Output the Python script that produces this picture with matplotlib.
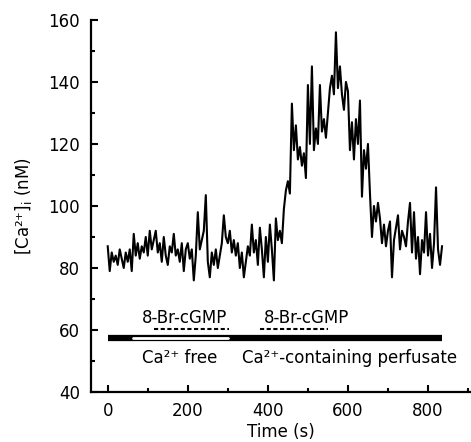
import matplotlib
matplotlib.use("Agg")
import matplotlib.pyplot as plt
import matplotlib.ticker as tic
import numpy as np

plt.rcParams['font.family'] = ['DejaVu Sans']
plt.rcParams['mathtext.default'] = 'regular'
plt.rcParams['font.size'] = 12

time_s = np.arange(0, 840, 5)
ca_nM = [
    87, 79, 85, 82, 84, 81, 86, 83, 80, 85, 82, 86,
    79, 91, 84, 88, 83, 87, 85, 90, 84, 92, 86, 89,
    92, 85, 88, 82, 90, 84, 81, 87, 85, 91, 84, 86,
    82, 88, 79, 86, 88, 83, 86, 76, 84, 98, 86, 89,
    92, 103.5, 82, 77, 85, 81, 86, 80, 84, 88, 97, 90,
    88, 92, 85, 89, 84, 88, 80, 85, 77, 82, 87, 84,
    94, 85, 89, 81, 93, 86, 77, 90, 82, 94, 86, 76,
    96, 89, 92, 88, 99, 105, 108, 104, 133, 118, 126, 115,
    119, 113, 117, 109, 139, 120, 145, 118, 125, 120, 139, 124,
    128, 122, 130, 138, 142, 136, 156, 138, 145, 136, 131, 140,
    137, 118, 127, 115, 128, 120, 134, 103, 118, 112, 120, 104,
    90, 100, 95, 101, 96, 88, 94, 87, 92, 95, 77, 89,
    93, 97, 86, 92, 90, 87, 95, 101, 85, 98, 83, 90,
    78, 89, 85, 98, 84, 91, 80, 88, 106, 86, 81, 87,
]

perfusion = [0, 835]       # whole perfusion bar
ca_free = [62, 300]        # white part of bar
cgmp_1 = [115, 303]
cgmp_2 = [380, 550]
bar_level = 57.5
cgmp_level = 60.2

fig = plt.figure(figsize=(4.71, 4.42), dpi=100)
ax = fig.add_axes([0.193, 0.113, 0.805, 0.842])

ax.plot(time_s, ca_nM, color='black', lw=1.5)

ax.plot(perfusion, [bar_level, bar_level], color='black', lw=4.5, solid_capstyle='butt')
ax.plot(ca_free, [bar_level, bar_level], color='white', lw=2.0, solid_capstyle='round')
ax.plot(cgmp_1, [cgmp_level, cgmp_level], color='black', lw=1.5, linestyle=(0, (2, 1.2)))
ax.plot(cgmp_2, [cgmp_level, cgmp_level], color='black', lw=1.5, linestyle=(0, (2, 1.2)))

ax.text(192, 64, '8-Br-cGMP', ha='center', va='center', fontsize=12)
ax.text(496, 64, '8-Br-cGMP', ha='center', va='center', fontsize=12)
ax.text(180, 51, 'Ca²⁺ free', ha='center', va='center', fontsize=12)
ax.text(335, 51, 'Ca²⁺-containing perfusate', ha='left', va='center', fontsize=12)

ax.set_xlim([-42, 905])
ax.set_ylim([40, 160])
ax.xaxis.set_major_locator(tic.MultipleLocator(200))
ax.xaxis.set_minor_locator(tic.MultipleLocator(100))
ax.yaxis.set_major_locator(tic.MultipleLocator(20))
ax.yaxis.set_minor_locator(tic.MultipleLocator(10))
ax.tick_params(which='both', direction='in', width=1.5, labelsize=12)
ax.tick_params(which='major', length=5)
ax.tick_params(which='minor', length=3)
ax.tick_params(axis='x', pad=7)
ax.tick_params(axis='y', pad=8)

for s in ['top', 'right']:
    ax.spines[s].set_visible(False)
for s in ['left', 'bottom']:
    ax.spines[s].set_linewidth(1.6)

ax.set_xlabel('Time (s)', fontsize=12, labelpad=2)
ax.set_ylabel('[Ca²⁺]$_i$ (nM)', fontsize=12, labelpad=10)

fig.savefig('out.png', dpi=100)
